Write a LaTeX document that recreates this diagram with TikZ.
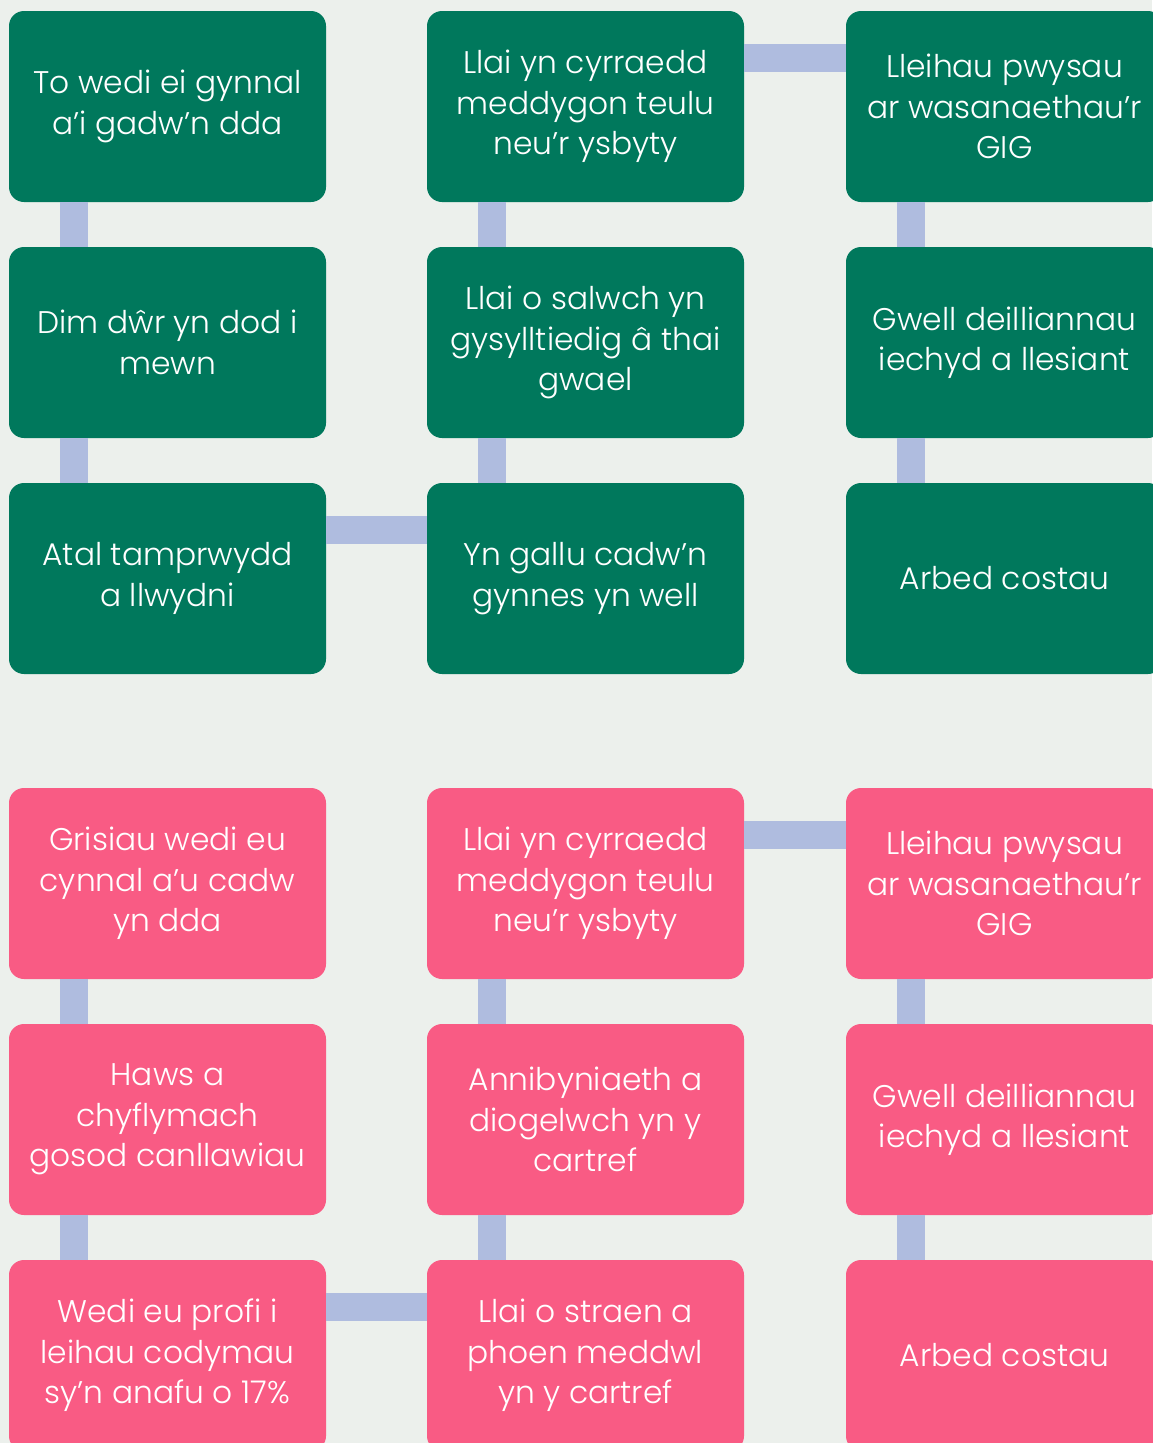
\documentclass[tikz,border=0pt]{standalone}
\usepackage{fontspec}
\setmainfont{Poppins Light}
\definecolor{bgcol}{HTML}{ECF0EC}
\definecolor{boxgreen}{HTML}{00785C}
\definecolor{boxpink}{HTML}{F95B84}
\definecolor{linkblue}{HTML}{AFBCDF}
\begin{document}
\begin{tikzpicture}[x=1pt,y=-1pt,
  box/.style={rounded corners=15pt,minimum width=317pt,minimum height=191pt,
    inner sep=0pt,text=white,align=center,font=\fontsize{31.3}{40.5}\selectfont},
  greenbox/.style={box,fill=boxgreen},
  pinkbox/.style={box,fill=boxpink},
  link/.style={draw=linkblue,line width=28pt}]
\fill [bgcol] (0,0) rectangle (1152,1443);
\useasboundingbox (0,0) rectangle (1152,1443);
% roof
\node [greenbox] (g11) at (167.5,106.5) {To wedi ei gynnal\\a’i gadw’n dda};
\node [greenbox] (g21) at (167.5,342.5) {Dim dŵr yn dod i\\mewn};
\node [greenbox] (g31) at (167.5,578.5) {Atal tamprwydd\\a llwydni};
\node [greenbox] (g12) at (585.5,106.5) {Llai yn cyrraedd\\meddygon teulu\\neu’r ysbyty};
\node [greenbox] (g22) at (585.5,342.5) {Llai o salwch yn\\gysylltiedig â thai\\gwael};
\node [greenbox] (g32) at (585.5,578.5) {Yn gallu cadw’n\\gynnes yn well};
\node [greenbox] (g13) at (1004.5,106.5) {Lleihau pwysau\\ar wasanaethau’r\\GIG};
\node [greenbox] (g23) at (1004.5,342.5) {Gwell deilliannau\\iechyd a llesiant};
\node [greenbox] (g33) at (1004.5,578.5) {Arbed costau};
\draw [link] ([xshift=65pt]g11.south west) -- ([xshift=65pt]g21.north west);
\draw [link] ([xshift=65pt]g21.south west) -- ([xshift=65pt]g31.north west);
\draw [link] ([yshift=-47pt]g31.north east) -- ([yshift=-47pt]g32.north west);
\draw [link] ([xshift=65pt]g32.north west) -- ([xshift=65pt]g22.south west);
\draw [link] ([xshift=65pt]g22.north west) -- ([xshift=65pt]g12.south west);
\draw [link] ([yshift=-47pt]g12.north east) -- ([yshift=-47pt]g13.north west);
\draw [link] ([xshift=65pt]g13.south west) -- ([xshift=65pt]g23.north west);
\draw [link] ([xshift=65pt]g23.south west) -- ([xshift=65pt]g33.north west);
% stairs
\node [pinkbox] (p11) at (167.5,883.5) {Grisiau wedi eu\\cynnal a’u cadw\\yn dda};
\node [pinkbox] (p21) at (167.5,1119.5) {Haws a\\chyflymach\\gosod canllawiau};
\node [pinkbox] (p31) at (167.5,1355.5) {Wedi eu profi i\\leihau codymau\\sy’n anafu o 17\%};
\node [pinkbox] (p12) at (585.5,883.5) {Llai yn cyrraedd\\meddygon teulu\\neu’r ysbyty};
\node [pinkbox] (p22) at (585.5,1119.5) {Annibyniaeth a\\diogelwch yn y\\cartref};
\node [pinkbox] (p32) at (585.5,1355.5) {Llai o straen a\\phoen meddwl\\yn y cartref};
\node [pinkbox] (p13) at (1004.5,883.5) {Lleihau pwysau\\ar wasanaethau’r\\GIG};
\node [pinkbox] (p23) at (1004.5,1119.5) {Gwell deilliannau\\iechyd a llesiant};
\node [pinkbox] (p33) at (1004.5,1355.5) {Arbed costau};
\draw [link] ([xshift=65pt]p11.south west) -- ([xshift=65pt]p21.north west);
\draw [link] ([xshift=65pt]p21.south west) -- ([xshift=65pt]p31.north west);
\draw [link] ([yshift=-47pt]p31.north east) -- ([yshift=-47pt]p32.north west);
\draw [link] ([xshift=65pt]p32.north west) -- ([xshift=65pt]p22.south west);
\draw [link] ([xshift=65pt]p22.north west) -- ([xshift=65pt]p12.south west);
\draw [link] ([yshift=-47pt]p12.north east) -- ([yshift=-47pt]p13.north west);
\draw [link] ([xshift=65pt]p13.south west) -- ([xshift=65pt]p23.north west);
\draw [link] ([xshift=65pt]p23.south west) -- ([xshift=65pt]p33.north west);
\end{tikzpicture}
\end{document}
